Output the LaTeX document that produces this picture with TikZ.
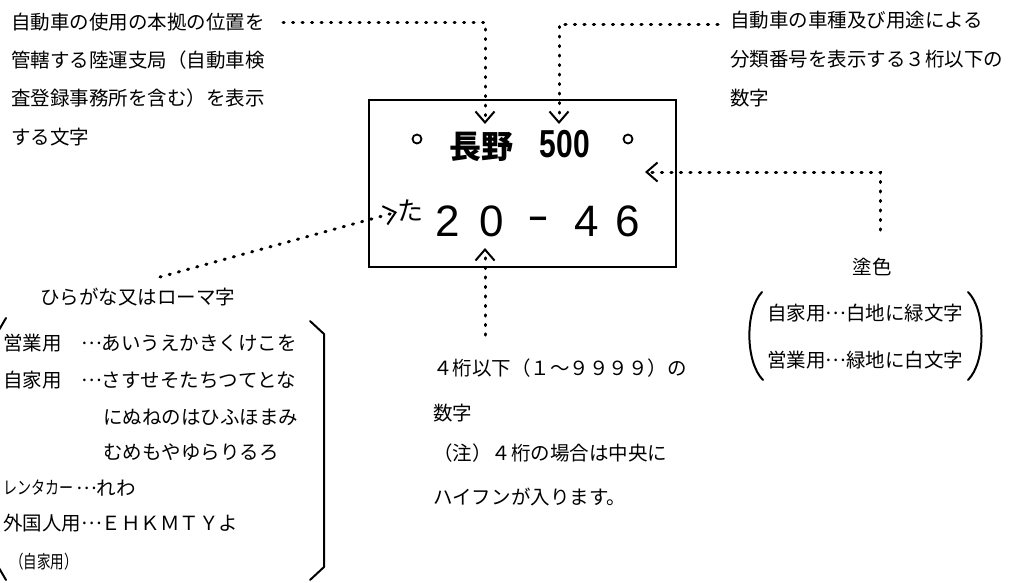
\documentclass[tikz,border=0pt]{standalone}
\usepackage{fontspec}
\usepackage{graphicx}
\newfontfamily\jp{Noto Sans CJK JP}
\newfontfamily\lat{Liberation Sans}
\newcommand\tenten{\raisebox{0.3em}{…}}
\usetikzlibrary{arrows.meta}
\begin{document}
\begin{tikzpicture}[x=1pt,y=-1pt,
  jt/.style={font=\jp\fontsize{19.5}{19.5}\selectfont, anchor=west, inner sep=0pt},
  jts/.style={font=\jp\fontsize{18}{18}\selectfont, anchor=west, inner sep=0pt},
  dots/.style={line width=3pt, dash pattern=on 1.2pt off 8.3pt, line cap=round},
  chev/.style={-{Straight Barb[length=11pt,width=19pt,line width=2pt]}},
  digit/.style={font=\lat\fontsize{44}{44}\selectfont, inner sep=0pt},
  hole/.style={draw, circle, line width=1.8pt, minimum size=9pt, inner sep=0pt},
  brk/.style={line width=2pt, line cap=round, line join=round}]
\useasboundingbox (0,0) rectangle (1015,582);

% plate
\node[draw, line width=2pt, minimum width=307pt, minimum height=167pt, inner sep=0pt, anchor=north west] (plate) at (368,99) {};
\node[hole] (h1) at (417,139) {};
\node[hole] (h2) at (628,139) {};
\node[font=\jp\bfseries\fontsize{32}{32}\selectfont, inner sep=0pt] (nagano) at (481,147) {長野};
\node[font=\lat\bfseries\fontsize{39}{39}\selectfont, inner sep=0pt] (num500) at (565,144) {\scalebox{0.77}[1]{500}};
\node[font=\jp\fontsize{26}{26}\selectfont, inner sep=0pt] (ta) at (410,211) {た};
\node[digit] (d2) at (448,221) {2};
\node[digit] (d0) at (492,221) {0};
\node[digit] (dm) at (538,224) {\scalebox{1.5}[1]{-}};
\node[digit] (d4) at (587,221) {4};
\node[digit] (d6) at (628,221) {6};

% top-left text
\node[jt] (tl1) at (11,22) {自動車の使用の本拠の位置を};
\node[jt] (tl2) at (11,60) {管轄する陸運支局（自動車検};
\node[jt] (tl3) at (11,98) {査登録事務所を含む）を表示};
\node[jt] (tl4) at (11,137) {する文字};

% top-right text
\node[jt] (tr1) at (730,20) {自動車の車種及び用途による};
\node[jt] (tr2) at (730,59) {分類番号を表示する３桁以下の};
\node[jt] (tr3) at (730,98) {数字};

% paint colour
\node[font=\jp\fontsize{19.5}{19.5}\selectfont, inner sep=0pt] (tos) at (872,267) {塗色};
\node[jt] (c1) at (767,313) {自家用\tenten 白地に緑文字};
\node[jt] (c2) at (767,360) {営業用\tenten 緑地に白文字};
\draw[brk] (762,292) .. controls (745,310) and (745,362) .. (763,380);
\draw[brk] (968,292) .. controls (986,310) and (986,362) .. (968,380);

% hiragana list
\node[jt] (hira) at (40,297) {ひらがな又はローマ字};
\node[jt] (r1) at (3,343) {営業用　\tenten あいうえかきくけこを};
\node[jt] (r2) at (3,380) {自家用　\tenten さすせそたちつてとな};
\node[jt] (r3) at (103,417) {にぬねのはひふほまみ};
\node[jt] (r4) at (103,452) {むめもやゆらりるろ};
\node[jts] (r5a) at (3,488) {\scalebox{0.78}[1]{レンタカー}};
\node[jt] (r5b) at (76,488) {\tenten れわ};
\node[jt] (r6) at (3,523) {外国人用\tenten ＥＨＫＭＴＹよ};
\node[jts] (r7) at (10,562) {\scalebox{0.75}[1]{（自家用）}};
\draw[brk] (6,318) -- (-1,330) -- (-1,568) -- (6,580);
\draw[brk] (310,321) -- (324,334) -- (324,567) -- (310,580);

% bottom-centre text
\node[jt] (b1) at (433,368) {４桁以下（１～９９９９）の};
\node[jt] (b2) at (433,413) {数字};
\node[jt] (b3) at (433,453) {（注）４桁の場合は中央に};
\node[jt] (b4) at (433,497) {ハイフンが入ります。};

% connectors
\coordinate (s1) at (283,22);
\coordinate (k1) at (485,22);
\coordinate (e1) at (485,124);
\coordinate (s2) at (718,24);
\coordinate (k2) at (559,24);
\coordinate (e2) at (559,124);
\coordinate (s3) at (880,230);
\coordinate (k3) at (880,172);
\coordinate (e3) at (645,172);
\coordinate (s4) at (160,277);
\coordinate (e4) at (397,212);
\coordinate (s5) at (485,335);
\coordinate (e5) at (485,248);
\draw[dots, chev] (s1) -- (k1) -- (e1);
\draw[dots, chev] (s2) -- (k2) -- (e2);
\draw[dots, chev] (s3) -- (k3) -- (e3);
\draw[dots, chev] (s4) -- (e4);
\draw[dots, chev] (s5) -- (e5);
\end{tikzpicture}
\end{document}
